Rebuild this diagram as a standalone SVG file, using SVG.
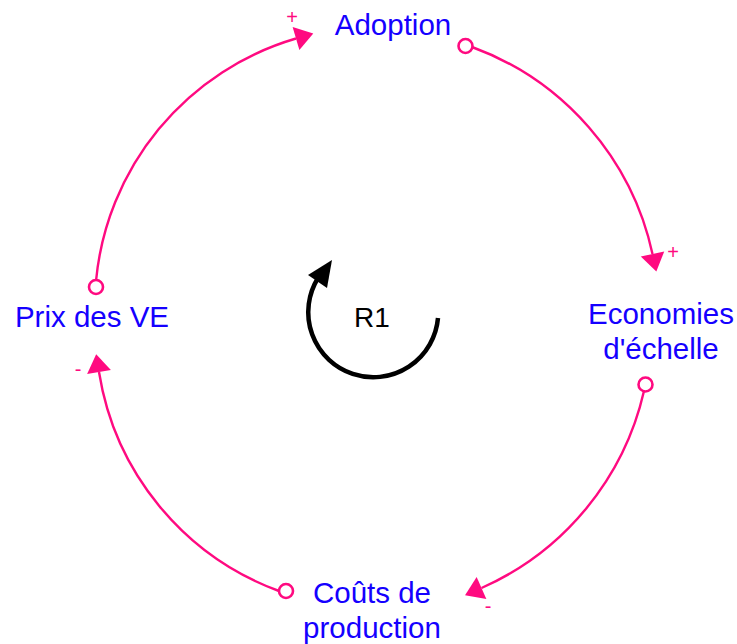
<svg xmlns="http://www.w3.org/2000/svg" width="737" height="644" viewBox="0 0 737 644">
<style>
.lbl{font-family:"Liberation Sans",Arial,Helvetica,sans-serif;font-size:29.5px;fill:#1500ff;text-anchor:middle}
.pol{font-family:"Liberation Sans",Arial,sans-serif;font-size:20px;fill:#ff0a80;text-anchor:middle}
.link{fill:none;stroke:#ff0a80;stroke-width:2.4}
.tail{fill:#fff;stroke:#ff0a80;stroke-width:2.6}
</style>
<defs>
<marker id="ah" markerUnits="userSpaceOnUse" markerWidth="20" markerHeight="26" refX="0" refY="12" orient="auto" overflow="visible" viewBox="0 0 20 24">
<path d="M0,0 L18,12 L0,24 Z" fill="#ff0a80"/>
</marker>
</defs>
<rect width="737" height="644" fill="#fff"/>
<g id="connectors">
<path class="link" d="M96,281 A280,280 0 0 1 296,38.5" marker-end="url(#ah)"/>
<path class="link" d="M472,47 A285,285 0 0 1 652.5,254" marker-end="url(#ah)"/>
<path class="link" d="M644,391 A285,285 0 0 1 481.5,588" marker-end="url(#ah)"/>
<path class="link" d="M279,591 A280,280 0 0 1 99,372" marker-end="url(#ah)"/>
<circle class="tail" cx="96" cy="287" r="7"/>
<circle class="tail" cx="465.5" cy="46" r="7"/>
<circle class="tail" cx="645.5" cy="384.5" r="7"/>
<circle class="tail" cx="286" cy="591" r="7"/>
<text class="pol" x="292" y="24">+</text>
<text class="pol" x="673" y="259">+</text>
<text class="pol" x="488" y="613">-</text>
<text class="pol" x="78" y="376">-</text>
</g>
<g id="adoption"><text class="lbl" x="393" y="35">Adoption</text></g>
<g id="economies"><text class="lbl" x="661" y="324">Economies</text><text class="lbl" x="661" y="359">d'échelle</text></g>
<g id="couts"><text class="lbl" x="372" y="603">Coûts de</text><text class="lbl" x="372" y="638">production</text></g>
<g id="prix"><text class="lbl" x="92" y="327">Prix des VE</text></g>
<g id="loop">
<path d="M438,318 A65,65 0 1 1 318,278" fill="none" stroke="#000" stroke-width="4.5"/>
<polygon points="308,275 332,260 327,288" fill="#000"/>
<text x="372" y="327" style="font-family:'Liberation Sans',Arial,sans-serif;font-size:28px;fill:#000;text-anchor:middle">R1</text>
</g>
</svg>
